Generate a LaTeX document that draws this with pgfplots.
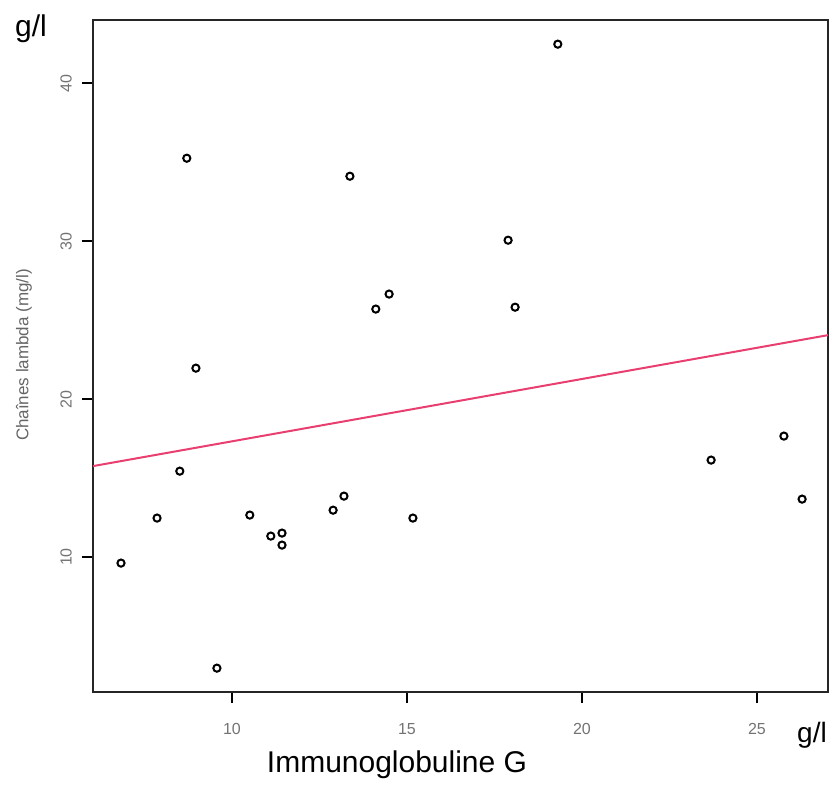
\documentclass[border=0pt]{standalone}
\usepackage{pgfplots}
\pgfplotsset{compat=1.18}
\usepackage{fontspec}
\setmainfont{Liberation Sans}
\definecolor{regline}{RGB}{232,62,112}
\begin{document}
\begin{tikzpicture}[x=1pt,y=1pt]
\path[use as bounding box] (0,0) rectangle (832,787);
\begin{axis}[
  at={(93pt,95pt)}, anchor=south west,
  scale only axis, width=735pt, height=672pt,
  xmin=6.03, xmax=27.03, ymin=1.46, ymax=44,
  xtick={10,15,20,25}, ytick={10,20,30,40},
  xtick pos=left, ytick pos=left,
  tick align=outside, major tick length=11pt,
  every tick/.style={black, line width=1.5pt},
  axis line style={line width=2.5pt, black!85},
  /pgf/number format/assume math mode=true,
  ticklabel style={font=\fontsize{16}{18}\selectfont, text=black!55},
  xticklabel style={anchor=center},
  xticklabel shift={26pt},
  yticklabel style={rotate=90, anchor=center},
  yticklabel shift={16pt},
  clip=false,
]
\addplot[only marks, mark=o, mark size=3.6pt, mark options={line width=2pt, black}] coordinates {
(19.31,42.47) (8.71,35.25) (13.37,34.11) (17.89,30.06) (14.49,26.65)
(14.11,25.70) (18.09,25.82) (8.97,21.96) (8.51,15.44) (7.86,12.47)
(6.83,9.62) (10.51,12.66) (11.11,11.33) (11.43,11.52) (11.43,10.76)
(12.89,12.97) (13.20,13.86) (15.17,12.47) (9.57,2.97) (23.69,16.14)
(25.77,17.66) (26.29,13.67)
};
\addplot[regline, line width=2pt] coordinates {(6.03,15.76) (27.03,24.05)};
\end{axis}
\node[font=\fontsize{30}{34}\selectfont] at (31,758) {g/l};
\node[font=\fontsize{28}{32}\selectfont] at (812,52) {g/l};
\node[font=\fontsize{30}{34}\selectfont] at (397,22) {Immunoglobuline G};
\node[font=\fontsize{17}{19}\selectfont, text=black!60, rotate=90] at (24,432) {Chaînes lambda (mg/l)};
\end{tikzpicture}
\end{document}
